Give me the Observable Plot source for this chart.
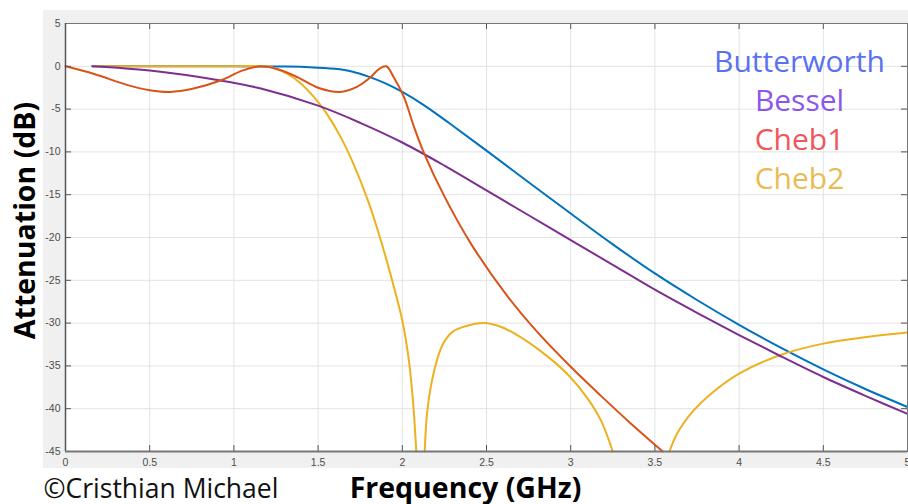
<!DOCTYPE html>
<html><head><meta charset="utf-8">
<script src="https://cdn.jsdelivr.net/npm/d3@7"></script>
<script src="https://cdn.jsdelivr.net/npm/@observablehq/plot@0.6"></script>
<style>
body{margin:0;background:#fff;}
#wrap{position:relative;width:908px;height:504px;overflow:hidden;}
#bg{position:absolute;left:43px;top:10px;width:865px;height:458px;background:#f0f0f0;}
#chart{position:absolute;left:0;top:0;}
</style></head><body>
<div id="wrap"><div id="bg"></div><div id="chart"></div></div>
<script>
// ---- data ----
const xTicks = [0, 0.5, 1, 1.5, 2, 2.5, 3, 3.5, 4, 4.5, 5];
const yTicks = [5, 0, -5, -10, -15, -20, -25, -30, -35, -40, -45];
const seriesNames = ["Butterworth", "Bessel", "Cheb1", "Cheb2"];

const butterF  = [0.16, 0.5, 1.0, 1.3, 1.45, 1.6, 1.7, 1.8, 1.9, 2.0, 2.13, 2.28, 2.5, 2.75, 3.0, 3.25, 3.5, 3.75, 4.0, 4.25, 4.5, 4.75, 5.0];
const butterDb = [0, 0, 0, -0.03, -0.1, -0.3, -0.6, -1.2, -2.0, -3.0, -4.56, -6.66, -9.85, -13.55, -17.2, -20.8, -24.2, -27.3, -30.2, -32.9, -35.4, -37.7, -39.8];

const besselF  = [0.16, 0.5, 0.92, 1.16, 1.5, 1.75, 2.0, 2.25, 2.5, 2.75, 3.0, 3.25, 3.5, 3.75, 4.0, 4.25, 4.5, 4.75, 5.0];
const besselDb = [0, -0.5, -1.66, -2.6, -4.6, -6.6, -8.9, -11.6, -14.5, -17.4, -20.3, -23.2, -26.1, -28.8, -31.4, -33.9, -36.3, -38.5, -40.6];

const cheb1F  = [0, 0.17, 0.37, 0.5, 0.62, 0.76, 0.92, 1.05, 1.16, 1.27, 1.38, 1.5, 1.63, 1.73, 1.81, 1.863, 1.905, 1.95, 2.01, 2.07, 2.13, 2.25, 2.41, 2.626, 2.8, 3.0, 3.18, 3.35, 3.547];
const cheb1Db = [0, -0.9, -2.2, -2.8, -3.0, -2.6, -1.66, -0.5, 0, -0.4, -1.3, -2.5, -3.0, -2.4, -1.3, -0.3, 0, -1.3, -3.6, -7.1, -10.2, -15.2, -20.8, -26.9, -31.0, -35.1, -38.5, -41.6, -45];

const cheb2F  = [0.16, 0.6, 1.0, 1.2, 1.24, 1.318, 1.397, 1.476, 1.55, 1.635, 1.71, 1.8, 1.861, 1.934, 2.0, 2.04, 2.065, 2.083,
                 2.1,
                 2.133, 2.15, 2.19, 2.24, 2.3, 2.37, 2.487, 2.58, 2.665, 2.824, 2.983, 3.10, 3.18, 3.25,
                 3.4,
                 3.587, 3.632, 3.73, 3.83, 4.0, 4.25, 4.5, 4.77, 5.0];
const cheb2Db = [0, 0, 0, 0, -0.2, -0.9, -2.0, -3.6, -5.5, -8.3, -11.4, -15.9, -19.6, -24.6, -29.7, -34.5, -39.5, -45,
                 null,
                 -45, -40, -35.5, -32.5, -31.0, -30.4, -30.0, -30.4, -31.2, -33.3, -36.0, -38.8, -41.4, -45,
                 null,
                 -45, -42.9, -40.2, -38.3, -35.9, -33.7, -32.4, -31.6, -31.1];

// ---- styles ----
const lineColors = ["#0072BD", "#7E2F8E", "#D95319", "#EDB120"];
const legendColors = ["#5a72f0", "#8b55ee", "#f0565a", "#e8bc55"];

const series = [
  {name: seriesNames[0], f: butterF, db: butterDb},
  {name: seriesNames[1], f: besselF, db: besselDb},
  {name: seriesNames[2], f: cheb1F, db: cheb1Db},
  {name: seriesNames[3], f: cheb2F, db: cheb2Db}
];
const drawOrder = [0, 3, 1, 2];
const rows = [];
for (const i of drawOrder) {
  const s = series[i];
  s.f.forEach((f, k) => rows.push({series: s.name, f, db: s.db[k]}));
}

const W = 908, H = 504, mL = 65, mT = 23, mR = 1, mB = 53;
const fw = W - mL - mR, fh = H - mT - mB, tk = 6;
const tickStyle = {stroke: "#555", strokeWidth: 1};

const legendMarks = seriesNames.map((n, i) => Plot.text([n], {
  text: d => d, frameAnchor: "top-left", dx: 734, dy: 48.7 + i * 38.8,
  lineAnchor: "bottom", textAnchor: "middle", fontSize: 30,
  fontFamily: "Open Sans", fill: legendColors[i]
}));

const chart = Plot.plot({
  width: W, height: H,
  marginLeft: mL, marginTop: mT, marginRight: mR, marginBottom: mB,
  x: {domain: [0, 5], axis: null},
  y: {domain: [-45, 5], axis: null},
  color: {domain: seriesNames, range: lineColors},
  style: {background: "transparent", overflow: "visible"},
  marks: [
    Plot.frame({fill: "white", stroke: "none"}),
    Plot.gridX(xTicks, {stroke: "#e3e3e3", strokeOpacity: 1}),
    Plot.gridY(yTicks, {stroke: "#e3e3e3", strokeOpacity: 1}),
    Plot.line(rows, {x: "f", y: "db", z: "series", stroke: "series", strokeWidth: 2, curve: "catmull-rom"}),
    Plot.tickY(yTicks, {y: d => d, insetRight: fw - tk, ...tickStyle}),
    Plot.tickY(yTicks, {y: d => d, insetLeft: fw - tk, ...tickStyle}),
    Plot.tickX(xTicks, {x: d => d, insetTop: fh - tk, ...tickStyle}),
    Plot.tickX(xTicks, {x: d => d, insetBottom: fh - tk, ...tickStyle}),
    Plot.frame({stroke: "#777", strokeWidth: 1}),
    Plot.ruleX([0], {stroke: "#555", strokeWidth: 1.5}),
    Plot.ruleY([-45], {stroke: "#777", strokeWidth: 2}),
    Plot.text(yTicks, {y: d => d, text: d => String(d), frameAnchor: "left", dx: -5, textAnchor: "end",
      fontSize: 10.5, fontFamily: "Liberation Sans", fill: "#4d4d4d"}),
    Plot.text(xTicks, {x: d => d, text: d => String(d), frameAnchor: "bottom", dy: 11, lineAnchor: "middle",
      fontSize: 10.5, fontFamily: "Liberation Sans", fill: "#4d4d4d"}),
    ...legendMarks,
    Plot.text(["Attenuation (dB)"], {text: d => d, frameAnchor: "left", dx: -31, dy: -17, rotate: -90,
      textAnchor: "middle", lineAnchor: "bottom", fontSize: 28.5, fontWeight: "bold", fontFamily: "Open Sans", fill: "#000"}),
    Plot.text(["Frequency (GHz)"], {text: d => d, frameAnchor: "bottom", dx: -21, dy: 46,
      textAnchor: "middle", lineAnchor: "bottom", fontSize: 28.5, fontWeight: "bold", fontFamily: "Open Sans", fill: "#000"}),
    Plot.text(["©Cristhian Michael"], {text: d => d, frameAnchor: "bottom-left", dx: -22, dy: 46,
      lineAnchor: "bottom", textAnchor: "start", fontSize: 26.5, fontFamily: "Open Sans", fill: "#111"})
  ]
});
document.getElementById("chart").appendChild(chart);
</script>
</body></html>
